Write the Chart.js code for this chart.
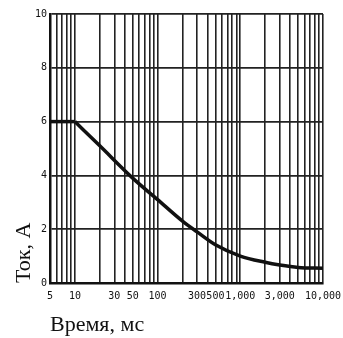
<!DOCTYPE html>
<html>
<head>
<meta charset="utf-8">
<script src="https://cdn.jsdelivr.net/npm/chart.js@4/dist/chart.umd.min.js"></script>
<style>
  html, body { margin: 0; padding: 0; background: #fff; }
  #wrap { width: 343px; height: 338px; }
</style>
</head>
<body>
<div id="wrap"><canvas id="myChart"></canvas></div>
<script>
// flat part, then the falling part of the curve
var flatTime = [5, 10];
var flatCurrent = [6, 6];
var curveTime = [10, 20, 50, 100, 200, 300, 500, 1000, 2000, 3000, 5000, 10000];
var curveCurrent = [6, 5.1, 3.9, 3.1, 2.3, 1.9, 1.42, 1.0, 0.77, 0.67, 0.58, 0.55];

var xLabels = [5, 10, 30, 50, 100, 300, 500, 1000, 3000, 10000];
var yLabels = [0, 2, 4, 6, 8, 10];

// grid lines at every 1..9 step of each decade
var xGrid = [];
for (var d = 1; d <= 1000; d *= 10) {
  for (var m = 1; m <= 9; m++) {
    if (m * d >= 5) xGrid.push(m * d);
  }
}
xGrid.push(10000);

function pts(xs, ys) {
  var out = [];
  for (var i = 0; i < xs.length; i++) out.push({x: xs[i], y: ys[i]});
  return out;
}

var ink = '#111';
var mono = {family: 'DejaVu Sans Mono', size: 10};
var serif = {family: 'Liberation Serif', size: 22};

let ctx = document.getElementById('myChart').getContext('2d');
let chart = new Chart(ctx, {
  type: 'line',
  data: {
    datasets: [
      {
        data: pts(flatTime, flatCurrent),
        borderColor: ink,
        borderWidth: 3.5,
        pointRadius: 0,
        tension: 0
      },
      {
        data: pts(curveTime, curveCurrent),
        borderColor: ink,
        borderWidth: 3.5,
        pointRadius: 0,
        cubicInterpolationMode: 'monotone'
      }
    ]
  },
  options: {
    responsive: true,
    maintainAspectRatio: false,
    animation: false,
    layout: {padding: {top: 14, right: 20, left: 0, bottom: 0}},
    plugins: {legend: {display: false}, tooltip: {enabled: false}},
    scales: {
      x: {
        type: 'logarithmic',
        min: 5,
        max: 10000,
        afterBuildTicks: function(s) {
          s.ticks = xGrid.map(function(v) { return {value: v}; });
        },
        afterFit: function(s) {
          s.height = 55;
          s.paddingRight = 0; // last label may run off the edge, like the scan
        },
        ticks: {
          autoSkip: false,
          maxRotation: 0,
          padding: 7,
          color: ink,
          font: mono,
          callback: function(v) {
            return xLabels.indexOf(v) >= 0 ? v.toLocaleString('en-US') : '';
          }
        },
        grid: {color: '#222', lineWidth: 1.6, drawTicks: false},
        border: {color: ink, width: 2.5},
        title: {
          display: true,
          text: 'Время, мс',
          align: 'start',
          color: ink,
          font: serif,
          padding: {top: 0, bottom: 0}
        }
      },
      y: {
        min: 0,
        max: 10,
        afterBuildTicks: function(s) {
          s.ticks = yLabels.map(function(v) { return {value: v}; });
        },
        afterFit: function(s) { s.width = 50; },
        ticks: {padding: 3, color: ink, font: mono},
        grid: {color: '#222', lineWidth: 1.8, drawTicks: false},
        border: {color: ink, width: 2.5},
        title: {
          display: true,
          text: 'Ток, А',
          align: 'start',
          color: ink,
          font: serif,
          padding: {top: 11, bottom: 0}
        }
      }
    }
  }
});
</script>
</body>
</html>
